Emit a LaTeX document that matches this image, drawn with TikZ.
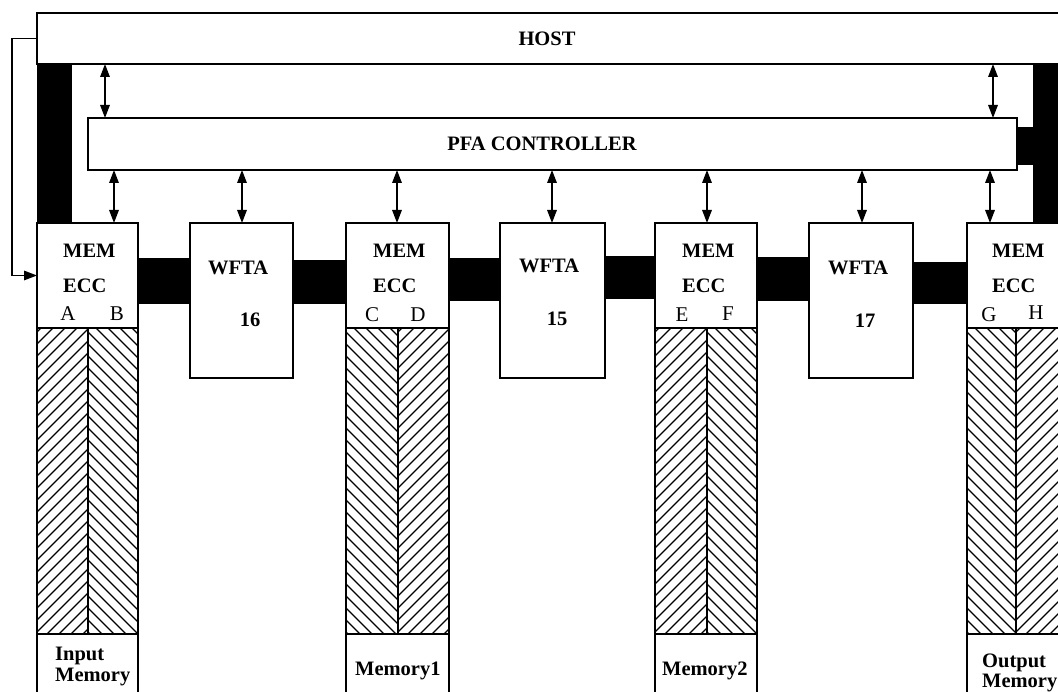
\documentclass[tikz,border=0pt]{standalone}
\usepackage{fontspec}
\setmainfont{Liberation Serif}
\usetikzlibrary{arrows.meta}
\newcommand\hatchNE[4]{\begin{scope}\clip (#1,#2) rectangle (#3,#4);
  \foreach \c in {-20,-8,...,420} \draw[hatchline] (#1,{#2+\c}) -- ++(130,-130);\end{scope}}
\newcommand\hatchNW[4]{\begin{scope}\clip (#1,#2) rectangle (#3,#4);
  \foreach \c in {-140,-128,...,320} \draw[hatchline] (#1,{#2+\c}) -- ++(130,130);\end{scope}}
\begin{document}
\begin{tikzpicture}[x=1pt,y=-1pt,
  box/.style={draw, line width=1.6pt, fill=white, inner sep=0pt, outer sep=0pt, anchor=north west},
  tip/.style={Triangle[length=13pt,width=9.5pt]},
  dbl/.style={{Triangle[length=13pt,width=9.5pt]}-{Triangle[length=13pt,width=9.5pt]}, line width=1.6pt},
  big/.style={font=\fontsize{20.5}{20.5}\selectfont\bfseries, inner sep=0pt},
  lbl/.style={big, anchor=base west},
  letter/.style={font=\fontsize{21}{21}\selectfont, inner sep=0pt, anchor=base},
  hatchline/.style={line width=1.3pt},
  wire/.style={line width=1.5pt}
]
\useasboundingbox (0,0) rectangle (1058,692);
\clip (0,0) rectangle (1058,692);

% thick buses (drawn first)
\fill (37,64) rectangle (72,224);
\fill (1033,64) rectangle (1062,223);
\fill (1015,127) rectangle (1034,165);
\fill (138,258) rectangle (190,304);
\fill (293,260) rectangle (346,304);
\fill (449,258) rectangle (500,301);
\fill (605,256) rectangle (655,299);
\fill (757,257) rectangle (809,301);
\fill (913,262) rectangle (967,304);

% host and controller
\node[box, minimum width=1025pt, minimum height=51pt] (host) at (37,13) {};
\node[big] (hosttext) at (547,39) {HOST};
\node[box, minimum width=929pt, minimum height=52pt] (pfa) at (88,118) {};
\node[big] (pfatext) at (542,144) {PFA CONTROLLER};

% MEM/ECC boxes
\node[box, minimum width=101pt, minimum height=105pt] (memA) at (37,223) {};
\node[box, minimum width=103pt, minimum height=105pt] (memC) at (346,223) {};
\node[box, minimum width=102pt, minimum height=105pt] (memE) at (655,223) {};
\node[box, minimum width=102pt, minimum height=105pt] (memG) at (967,223) {};

% WFTA boxes
\node[box, minimum width=103pt, minimum height=155pt] (w16) at (190,223) {};
\node[box, minimum width=105pt, minimum height=155pt] (w15) at (500,223) {};
\node[box, minimum width=104pt, minimum height=155pt] (w17) at (809,223) {};

% hatched memories
\hatchNE{37}{328}{88}{634}  \hatchNW{88}{328}{138}{634}
\hatchNW{346}{328}{398}{634} \hatchNE{398}{328}{449}{634}
\hatchNE{655}{328}{707}{634} \hatchNW{707}{328}{757}{634}
\hatchNW{967}{328}{1016}{634} \hatchNE{1016}{328}{1069}{634}
\foreach \a/\m/\b in {37/88/138, 346/398/449, 655/707/757, 967/1016/1069}{
  \draw[line width=1.6pt] (\a,328) rectangle (\b,634);
  \draw[line width=1.6pt] (\m,328) -- (\m,634);
}

% memory label boxes
\node[box, minimum width=101pt, minimum height=70pt] (inA) at (37,634) {};
\node[box, minimum width=103pt, minimum height=70pt] (inC) at (346,634) {};
\node[box, minimum width=102pt, minimum height=70pt] (inE) at (655,634) {};
\node[box, minimum width=102pt, minimum height=70pt] (inG) at (967,634) {};

% feedback line
\coordinate (fb) at (12,0);
\draw[wire, -{Triangle[length=13pt,width=9.5pt]}] (host.west) -- (host.west -| fb) |- (memA.west);

% arrows
\coordinate (h1) at (105,0);
\coordinate (h2) at (993,0);
\draw[dbl] (host.south -| h1) -- (pfa.north -| h1);
\draw[dbl] (host.south -| h2) -- (pfa.north -| h2);
\coordinate (pA) at (114,0);
\coordinate (p16) at (242,0);
\coordinate (pC) at (397,0);
\coordinate (p15) at (552,0);
\coordinate (pE) at (707,0);
\coordinate (p17) at (862,0);
\coordinate (pG) at (990,0);
\draw[dbl] (pfa.south -| pA) -- (memA.north -| pA);
\draw[dbl] (pfa.south -| p16) -- (w16.north -| p16);
\draw[dbl] (pfa.south -| pC) -- (memC.north -| pC);
\draw[dbl] (pfa.south -| p15) -- (w15.north -| p15);
\draw[dbl] (pfa.south -| pE) -- (memE.north -| pE);
\draw[dbl] (pfa.south -| p17) -- (w17.north -| p17);
\draw[dbl] (pfa.south -| pG) -- (memG.north -| pG);

% MEM ECC texts
\foreach \n/\x in {A/63, C/373, E/682, G/992}{
  \node[lbl] (mem\n) at (\x,258) {MEM};
  \node[lbl] (ecc\n) at (\x,293) {ECC};
}
\node[letter] (la) at (68,321) {A};
\node[letter] (lb) at (117,321) {B};
\node[letter] (lc) at (372,322) {C};
\node[letter] (ld) at (418,322) {D};
\node[letter] (le) at (682,322) {E};
\node[letter] (lf) at (728,321) {F};
\node[letter] (lg) at (989,322) {G};
\node[letter] (lh) at (1036,320) {H};

% WFTA texts
\node[lbl] (t16) at (208,275) {WFTA};
\node[big, anchor=base] (n16) at (250,327) {16};
\node[lbl] (t15) at (519,273) {WFTA};
\node[big, anchor=base] (n15) at (557,326) {15};
\node[lbl] (t17) at (828,275) {WFTA};
\node[big, anchor=base] (n17) at (865,328) {17};

% memory names
\node[lbl] (inp1) at (55,660) {Input};
\node[lbl] (inp2) at (55,681) {Memory};
\node[lbl] (m1) at (355,675) {Memory1};
\node[lbl] (m2) at (662,675) {Memory2};
\node[lbl] (out1) at (982,667) {Output};
\node[lbl] (out2) at (982,687) {Memory};
\end{tikzpicture}
\end{document}
